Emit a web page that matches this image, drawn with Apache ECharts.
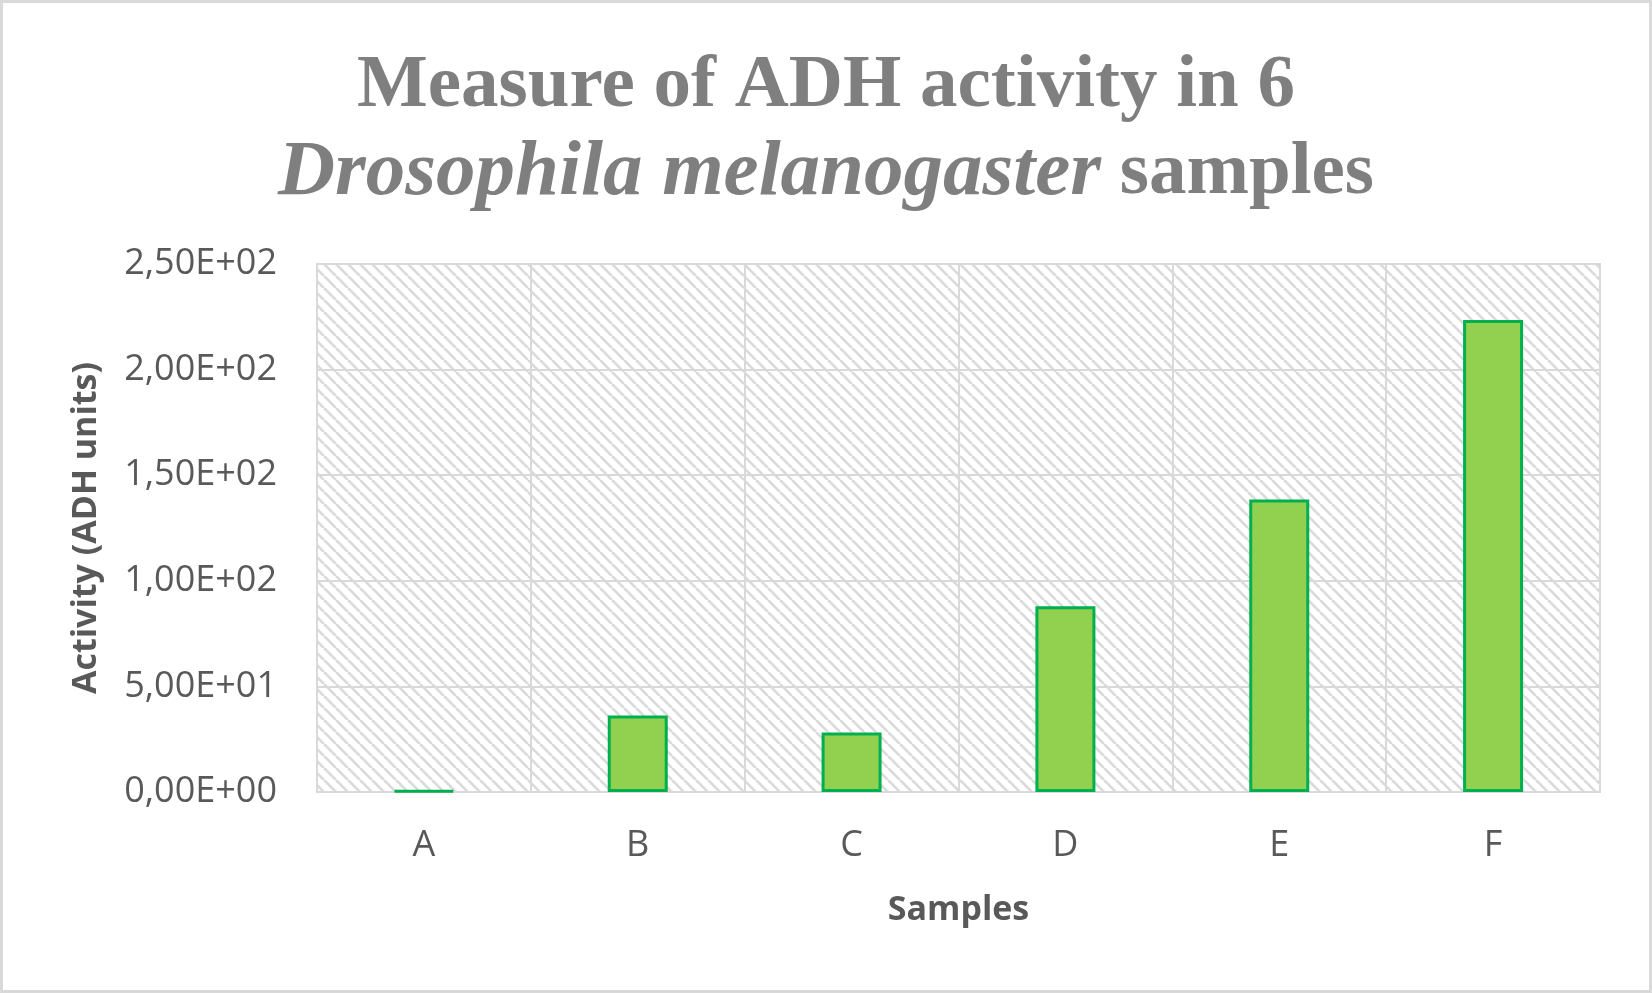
<!DOCTYPE html>
<html>
<head>
<meta charset="utf-8">
<title>ADH activity</title>
<script src="https://cdn.jsdelivr.net/npm/echarts@6/dist/echarts.min.js"></script>
<style>
  html, body { margin: 0; padding: 0; background: #fff; }
  #chart { width: 1652px; height: 993px; }
</style>
</head>
<body>
<div id="chart"></div>
<script>
// data
const samples = ['A', 'B', 'C', 'D', 'E', 'F'];
const activity = [0.6, 36.2, 28.2, 88.0, 138.5, 223.5];
const yTicks = { min: 0, max: 250, interval: 50 };

// excel-like "0,00E+00" labels
const sci = (v) => {
  if (v === 0) return '0,00E+00';
  const e = Math.floor(Math.log10(Math.abs(v)));
  const m = v / Math.pow(10, e);
  return m.toFixed(2).replace('.', ',') + 'E' + (e < 0 ? '-' : '+') + String(Math.abs(e)).padStart(2, '0');
};

// diagonal hatch for the plot area
const makeHatch = () => {
  const s = 12;
  const c = document.createElement('canvas');
  c.width = s;
  c.height = s;
  const ctx = c.getContext('2d');
  ctx.fillStyle = '#ffffff';
  ctx.fillRect(0, 0, s, s);
  ctx.strokeStyle = '#dadada';
  ctx.lineWidth = 2.6;
  for (let k = -1; k <= 1; k++) {
    ctx.beginPath();
    ctx.moveTo(k * s, 0);
    ctx.lineTo(k * s + s, s);
    ctx.stroke();
  }
  return c;
};

const chart = echarts.init(document.getElementById('chart'));

const labelFont = '"Open Sans", "Noto Sans", sans-serif';
const titleFont = '"Liberation Serif", "DejaVu Serif", serif';

chart.setOption({
  backgroundColor: '#ffffff',
  animation: false,
  graphic: [{
    type: 'rect',
    shape: { x: 1.5, y: 1.5, width: 1649, height: 990 },
    style: { fill: 'none', stroke: '#d9d9d9', lineWidth: 3 },
    silent: true
  }],
  title: {
    text: '{b|Measure of ADH activity in 6}\n{i|Drosophila melanogaster}{b| samples}',
    left: 'center',
    top: 43,
    padding: 0,
    textStyle: {
      rich: {
        b: { fontFamily: titleFont, fontWeight: 'bold', fontSize: 75, color: '#7f7f7f', lineHeight: 87 },
        i: { fontFamily: titleFont, fontWeight: 'bold', fontStyle: 'italic', fontSize: 79, color: '#7f7f7f', lineHeight: 87 }
      }
    }
  },
  grid: {
    left: 317,
    right: 52,
    top: 264,
    bottom: 201,
    show: true,
    backgroundColor: { image: makeHatch(), repeat: 'repeat' },
    borderColor: '#d9d9d9',
    borderWidth: 2
  },
  xAxis: {
    type: 'category',
    data: samples,
    name: 'Samples',
    nameLocation: 'middle',
    nameGap: 101,
    nameTextStyle: { fontFamily: labelFont, fontWeight: 'bold', fontSize: 34, color: '#595959' },
    axisLine: { lineStyle: { color: '#d9d9d9', width: 2 } },
    axisTick: { show: false },
    axisLabel: { fontFamily: labelFont, fontSize: 36, color: '#595959', margin: 36 },
    splitLine: { show: true, interval: 0, lineStyle: { color: '#d9d9d9', width: 2 } }
  },
  yAxis: {
    type: 'value',
    min: yTicks.min,
    max: yTicks.max,
    interval: yTicks.interval,
    name: 'Activity (ADH units)',
    nameLocation: 'middle',
    nameGap: 214,
    nameTextStyle: { fontFamily: labelFont, fontWeight: 'bold', fontSize: 34, color: '#595959' },
    axisLine: { show: false },
    axisTick: { show: false },
    axisLabel: { fontFamily: labelFont, fontSize: 36, color: '#595959', margin: 40, formatter: sci },
    splitLine: { lineStyle: { color: '#d9d9d9', width: 2 } }
  },
  series: [{
    name: 'Activity',
    type: 'bar',
    data: activity,
    barWidth: 60,
    itemStyle: { color: '#92d050', borderColor: '#00b050', borderWidth: 3 }
  }]
});
</script>
</body>
</html>
